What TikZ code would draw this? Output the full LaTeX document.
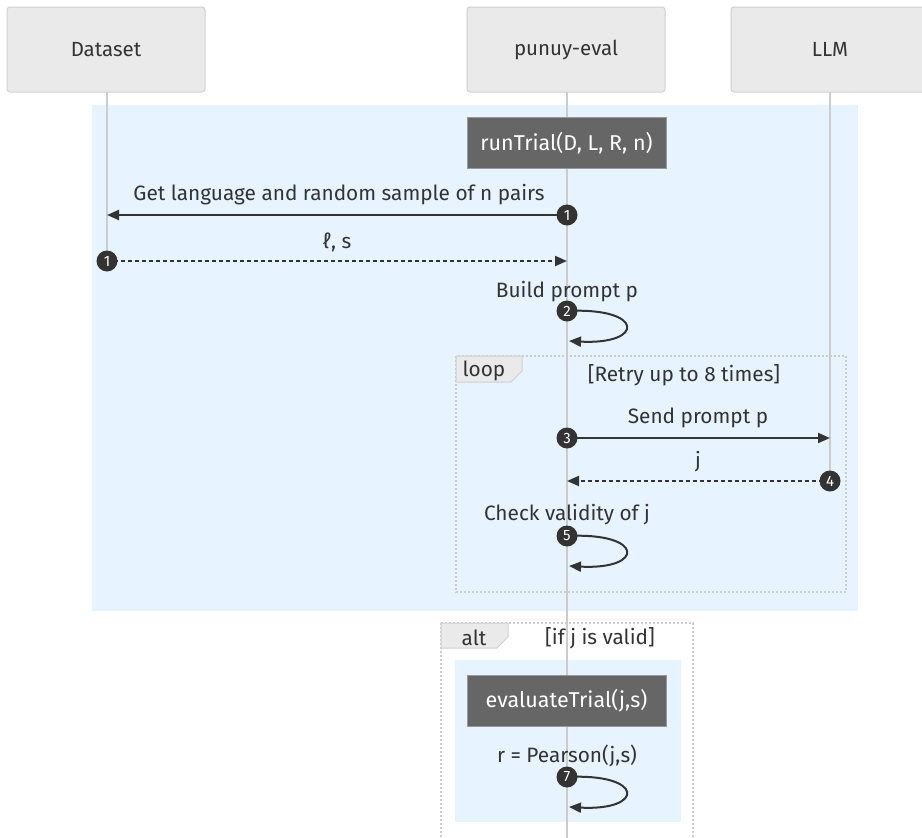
\documentclass[tikz,border=0pt]{standalone}
\usepackage{fontspec}
\setmainfont{Fira Sans}
\usetikzlibrary{arrows.meta}
\definecolor{actorfill}{HTML}{EAEAEA}
\definecolor{actorline}{HTML}{D0D0D0}
\definecolor{lifeline}{HTML}{CCCCCC}
\definecolor{rectblue}{HTML}{E7F3FF}
\definecolor{notefill}{HTML}{666666}
\definecolor{noteline}{HTML}{999999}
\definecolor{msg}{HTML}{333333}
\definecolor{txt}{HTML}{333333}
\tikzset{
  actor/.style={draw=actorline, fill=actorfill, rounded corners=3pt, line width=1pt,
    minimum width=198pt, minimum height=85pt, inner sep=0pt, font=\fontsize{20.5}{23}\selectfont, text=txt},
  life/.style={draw=lifeline, line width=2.5pt},
  note/.style={draw=noteline, fill=notefill, line width=1pt, text=white,
    minimum width=199pt, minimum height=51pt, inner sep=0pt, font=\fontsize{21.5}{24}\selectfont},
  msgline/.style={draw=msg, line width=2pt, -{Triangle[length=12pt,width=10pt]}},
  retline/.style={msgline, dash pattern=on 4pt off 3pt},
  bullet/.style={circle, fill=msg, minimum size=21pt, inner sep=0pt,
    text=white, font=\fontsize{15}{15}\selectfont},
  lbl/.style={text=txt, font=\fontsize{20.8}{23}\selectfont, inner sep=0pt},
  frame/.style={draw=lifeline, line width=2.5pt, dash pattern=on 2pt off 2pt},
  tab/.style={draw=actorline, fill=actorfill, line width=1pt},
}
\begin{document}
\begin{tikzpicture}[x=1pt,y=-1pt]
\useasboundingbox (0,0) rectangle (922,838);

% background regions
\fill[rectblue] (92,105) rectangle (858,611);

% lifelines
\draw[life] (107,92) -- (107,261);
\draw[life] (830,92) -- (830,481);
\draw[life] (567,92) -- (567,838);

% participants
\node[actor] (ds) at (106,49.5) {Dataset};
\node[actor] (pe) at (566,49.5) {punuy-eval};
\node[actor] (llm) at (830,49.5) {LLM};

% run note
\node[note] (run) at (566.5,143) {runTrial(D, L, R, n)};

% positions on lifelines
\coordinate (pe1) at (567,215);
\coordinate (ds1) at (107,215);
\coordinate (ds2) at (107,261);
\coordinate (pe2) at (567,261);
\coordinate (pe3) at (567,438);
\coordinate (llm3) at (830,438);
\coordinate (llm4) at (830,481);
\coordinate (pe4) at (567,481);

% message 1
\draw[msgline] (pe1) -- (ds1);
\node[lbl] (m1) at (339,195) {Get language and random sample of n pairs};
\node[bullet] (b1) at (pe1) {1};

% reply
\draw[retline] (ds2) -- (pe2);
\node[lbl] (m1r) at (337,242) {ℓ, s};
\node[bullet] (b1r) at (ds2) {1};

% self message 2
\node[lbl] (m2) at (567,292) {Build prompt p};
\coordinate (s2a) at (567,311);
\coordinate (s2b) at (569,341);
\draw[msgline] (s2a) .. controls (645,307) and (645,345) .. (s2b);
\node[bullet] (b2) at (s2a) {2};

% loop frame
\draw[frame] (456,356) rectangle (846,592);
\draw[tab] (456,356) -- (522,356) -- (522,371) -- (511,382) -- (456,382) -- cycle;
\node[lbl] (looplbl) at (484,371) {loop};
\node[lbl] (loopcond) at (684,375) {[Retry up to 8 times]};

% message 3
\draw[msgline] (pe3) -- (llm3);
\node[lbl] (m3) at (698,418) {Send prompt p};
\node[bullet] (b3) at (pe3) {3};

% message 4
\draw[retline] (llm4) -- (pe4);
\node[lbl] (m4) at (698,462) {j};
\node[bullet] (b4) at (llm4) {4};

% self message 5
\node[lbl] (m5) at (567,515) {Check validity of j};
\coordinate (s5a) at (567,536);
\coordinate (s5b) at (569,566);
\draw[msgline] (s5a) .. controls (645,532) and (645,570) .. (s5b);
\node[bullet] (b5) at (s5a) {5};

% alt frame
\draw[frame] (441,623) -- (693,623) -- (693,840);
\draw[frame] (441,623) -- (441,840);
\fill[rectblue] (455,660) rectangle (681,822);
\draw[life] (567,611) -- (567,838);
\draw[tab] (441,623) -- (508,623) -- (508,637) -- (497,648) -- (441,648) -- cycle;
\node[lbl] (altlbl) at (474,638) {alt};
\node[lbl] (altcond) at (600,638) {[if j is valid]};

% evaluate note
\node[note] (eval) at (566.5,700.5) {evaluateTrial(j,s)};

% self message 7
\node[lbl] (m7) at (567,756) {r = Pearson(j,s)};
\coordinate (s7a) at (567,777);
\coordinate (s7b) at (569,807);
\draw[msgline] (s7a) .. controls (645,773) and (645,811) .. (s7b);
\node[bullet] (b7) at (s7a) {7};
\end{tikzpicture}
\end{document}
